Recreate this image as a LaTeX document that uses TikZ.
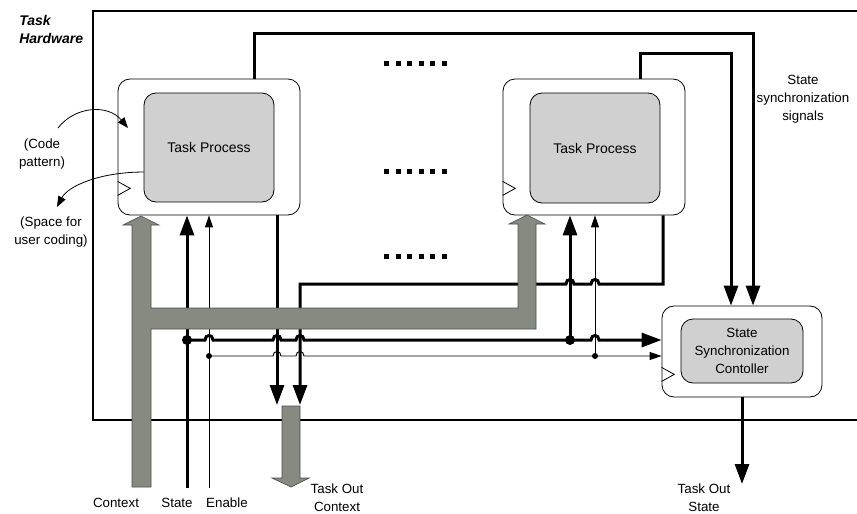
\documentclass[tikz,border=0pt]{standalone}
\usepackage{fontspec}
\setmainfont{Liberation Sans}
\usetikzlibrary{arrows.meta}
\definecolor{busgray}{HTML}{878A80}
\definecolor{coregray}{HTML}{D0D0D0}
\tikzset{
  hwframe/.style={black, line width=1pt},
  procouter/.style={draw, rounded corners=9pt, fill=white, line width=0.6pt, inner sep=0pt},
  proccore/.style={draw, rounded corners=9pt, fill=coregray, line width=0.6pt, inner sep=0pt, align=center},
  sigline/.style={line width=2.25pt, -{Triangle[length=15pt, width=10.5pt]}},
  thinsig/.style={line width=0.7pt, -{Triangle[length=9pt, width=6pt]}},
  curvearrow/.style={line width=0.6pt, -{Triangle[length=8pt, width=6pt]}},
  busarrow/.style={fill=busgray, draw=black!70, line width=0.5pt},
  clock/.style={line width=0.6pt},
  bigdot/.style={circle, fill, inner sep=0pt, minimum size=7.5pt},
  smalldot/.style={circle, fill, inner sep=0pt, minimum size=4.5pt},
  note/.style={align=center, inner sep=0pt},
  hop/.style 2 args={insert path={-- (#1-4,#2) .. controls (#1-4,#2-6) and (#1+4,#2-6) .. (#1+4,#2)}},
  hopl/.style 2 args={insert path={-- (#1+4,#2) .. controls (#1+4,#2-6) and (#1-4,#2-6) .. (#1-4,#2)}},
}

\begin{document}
\begin{tikzpicture}[x=0.75pt, y=-0.75pt, font=\fontsize{10}{13.5}\selectfont]
    \useasboundingbox (0,0) rectangle (857,514);
    % ---------------- task hardware frame ----------------
    \draw[hwframe] (857,11) -- (93,11) -- (93,420) -- (857,420);
    \node[anchor=west, align=left, inner sep=0pt,
          font=\fontsize{10.5}{13.5}\selectfont\bfseries\itshape] (hwlabel) at (19,29) {Task\\Hardware};

    % ---------------- process blocks ----------------
    \node[procouter, minimum width=136.5pt, minimum height=102pt] (tp1) at (209,147) {};
    \node[proccore, minimum width=97.5pt, minimum height=81.75pt,
          font=\fontsize{10.5}{13.5}\selectfont] (tp1c) at (209,147.5) {Task Process};
    \node[procouter, minimum width=136.5pt, minimum height=102pt] (tp2) at (594,147) {};
    \node[proccore, minimum width=97.5pt, minimum height=82.5pt,
          font=\fontsize{10.5}{13.5}\selectfont] (tp2c) at (595,148) {Task Process};
    \node[procouter, minimum width=120pt, minimum height=68.25pt] (ssc) at (742,351.5) {};
    \node[proccore, minimum width=91.5pt, minimum height=48pt] (sscc) at (742,351)
      {State\\Synchronization\\Contoller};
    \foreach \b/\h in {tp1/15pt, tp2/15pt, ssc/12pt}
      { \draw[clock] ([yshift=\h]\b.south west) -- ++(9.5pt,5.25pt) -- ++(-9.5pt,5.25pt); }

    % dotted "more processes"
    \foreach \y in {63,171,256}
      \foreach \i in {0,...,5}
        { \fill (384+11.6*\i,\y-2.5) rectangle ++(5,5); }

    % ---------------- signal routing ----------------
    \coordinate (sy1) at (254,33);
    \coordinate (sy2) at (640,53);
    \coordinate (sx1) at (753,0);
    \coordinate (sx2) at (731,0);
    \coordinate (stB) at (187,488);
    \coordinate (enB) at (209,488);
    \coordinate (stJ) at (187,340);
    \coordinate (enJ) at (209,356);
    \coordinate (stJ2) at (570,340);
    \coordinate (enJ2) at (595,356);
    \coordinate (rt2) at (663,284);
    \coordinate (oc1) at (277,405);
    \coordinate (oc2) at (300,405);
    \coordinate (tos) at (742,484);

    % state synchronization signals
    \draw[sigline] (sy1 |- tp1.north) -- (sy1) -| (sx1 |- ssc.north);
    \draw[sigline] (sy2 |- tp2.north) -- (sy2) -| (sx2 |- ssc.north);

    % state / enable inputs
    \draw[sigline] (stB) -- (stB |- tp1.south);
    \draw[thinsig] (enB) -- (enB |- tp1.south);
    \draw[sigline] (stJ) [hop={209}{340}] [hop={277}{340}] [hop={300}{340}]
      -- (stJ2) [hop={595}{340}] -- (stJ -| ssc.west);
    \draw[thinsig] (enJ) [hop={277}{356}] [hop={300}{356}] -- (enJ -| ssc.west);
    \draw[sigline] (stJ2) -- (stJ2 |- tp2.south);
    \draw[thinsig] (enJ2) -- (enJ2 |- tp2.south);

    % task outputs
    \draw[sigline] (oc1 |- tp1.south) -- (oc1);
    \draw[sigline] (rt2 |- tp2.south) -- (rt2) [hopl={595}{284}] [hopl={570}{284}]
      -- (oc2 |- rt2) -- (oc2);
    \draw[sigline] (ssc.south) -- (tos);

    \node[bigdot] (dotS1) at (stJ) {};
    \node[bigdot] (dotS2) at (stJ2) {};
    \node[smalldot] (dotE1) at (enJ) {};
    \node[smalldot] (dotE2) at (enJ2) {};

    % ---------------- context buses ----------------
    \draw[busarrow] (132,487) -- (132,225) -- (123,225) -- (141,216) -- (159,225)
      -- (151,225) -- (151,308) -- (518,308) -- (518,224) -- (509,224) -- (527,215)
      -- (545,224) -- (536,224) -- (536,329) -- (151,329) -- (151,487) -- cycle;
    \draw[busarrow] (282,406) -- (300,406) -- (300,478) -- (309,478) -- (291,487)
      -- (272,478) -- (282,478) -- cycle;

    % ---------------- user code notes ----------------
    \node[note] (codep) at (42,154) {(Code\\pattern)};
    \node[note] (spacef) at (51,232) {(Space for\\user coding)};
    \draw[curvearrow] (58,128) .. controls (75,106) and (108,104) .. (128,128);
    \draw[curvearrow] ([yshift=-18.4pt]tp1c.west) .. controls (100,172) and (68,186) .. (57,207);

    % ---------------- labels ----------------
    \node[note] (syncl) at (803,99) {State\\synchronization\\signals};
    \node[note] (ctxl) at (116,503) {Context};
    \node[note] (stl) at (177,503) {State};
    \node[note] (enl) at (227,503) {Enable};
    \node[note] (tocl) at (337,498) {Task Out\\Context};
    \node[note] (tosl) at (704,498) {Task Out\\State};
\end{tikzpicture}
\end{document}
